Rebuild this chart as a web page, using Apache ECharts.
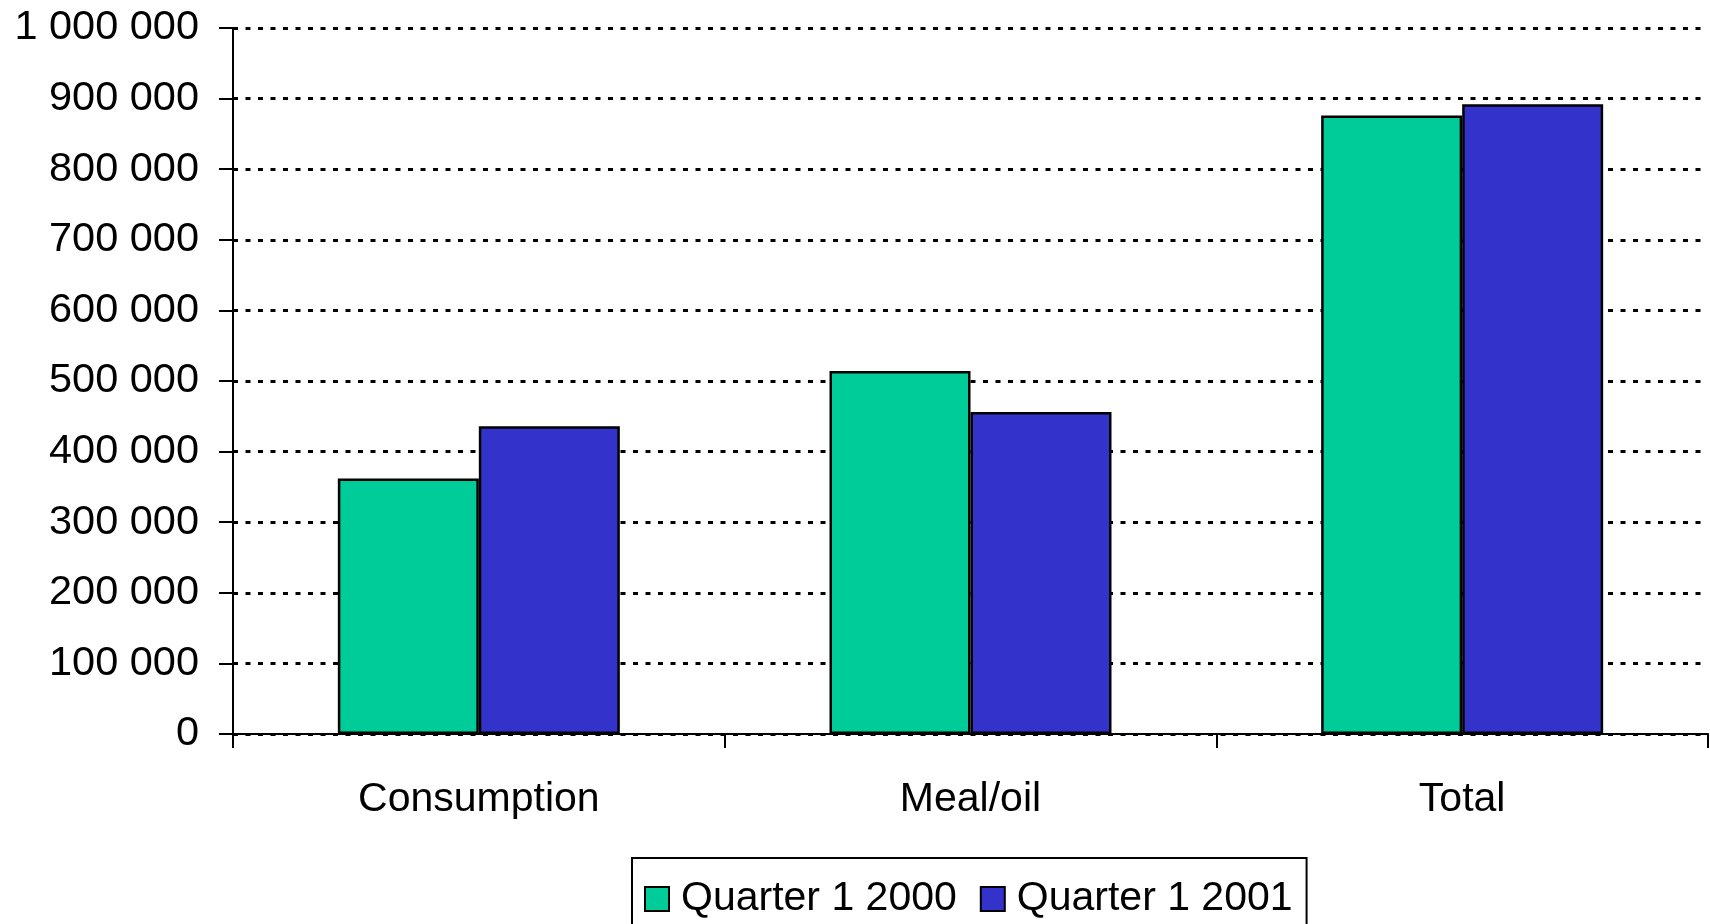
<!DOCTYPE html>
<html>
<head>
<meta charset="utf-8">
<title>Quarter 1 2000 vs Quarter 1 2001</title>
<script src="https://cdn.jsdelivr.net/npm/echarts@6/dist/echarts.min.js"></script>
<style>
  html, body { margin: 0; padding: 0; background: #ffffff; }
  #chart { width: 1710px; height: 924px; }
</style>
</head>
<body>
<div id="chart"></div>
<script>
// Categories and series values
const categories = ['Consumption', 'Meal/oil', 'Total'];
const seriesNames = ['Quarter 1 2000', 'Quarter 1 2001'];
const q1_2000 = [362000, 514000, 876000];
const q1_2001 = [436000, 456000, 892000];

const FONT = '"Liberation Sans", Arial, sans-serif';

// Thousands separated by a space: 1 000 000
function spaced(v) {
  return String(v).replace(/\B(?=(\d{3})+(?!\d))/g, ' ');
}

const chart = echarts.init(document.getElementById('chart'), null, { renderer: 'canvas' });

const barStyle = (color) => ({
  color: color,
  borderColor: '#000000',
  borderWidth: 2.5
});

chart.setOption({
  backgroundColor: '#ffffff',
  animation: false,
  textStyle: { fontFamily: FONT, color: '#000000' },
  grid: { left: 233, right: 2, top: 28, bottom: 190, containLabel: false },
  legend: {
    data: seriesNames,
    top: 858,
    left: 632,
    orient: 'horizontal',
    padding: [19, 14, 21, 12],
    itemGap: 23,
    itemWidth: 24,
    itemHeight: 24,
    borderColor: '#000000',
    borderWidth: 2,
    icon: 'rect',
    itemStyle: { borderColor: '#000000', borderWidth: 2 },
    textStyle: { fontFamily: FONT, fontSize: 41, color: '#000000', lineHeight: 44, padding: [0, 0, 0, 7] }
  },
  xAxis: {
    type: 'category',
    data: categories,
    boundaryGap: true,
    axisLine: { lineStyle: { color: '#000000', width: 2 } },
    axisTick: { show: true, length: 14, lineStyle: { color: '#000000', width: 2 } },
    axisLabel: { fontFamily: FONT, fontSize: 41, color: '#000000', margin: 45 },
    splitLine: { show: false }
  },
  yAxis: {
    type: 'value',
    min: 0,
    max: 1000000,
    interval: 100000,
    axisLine: { show: true, lineStyle: { color: '#000000', width: 2 } },
    axisTick: { show: true, length: 14, inside: false, lineStyle: { color: '#000000', width: 2 } },
    axisLabel: { fontFamily: FONT, fontSize: 41.5, color: '#000000', margin: 34, formatter: spaced },
    splitLine: { show: true, lineStyle: { color: '#000000', width: 3, type: [5, 7.5] } }
  },
  series: [
    {
      name: seriesNames[0],
      type: 'bar',
      data: q1_2000,
      barWidth: 141,
      barGap: '0%',
      itemStyle: barStyle('#00CC99')
    },
    {
      name: seriesNames[1],
      type: 'bar',
      data: q1_2001,
      barWidth: 141,
      barGap: '0%',
      itemStyle: barStyle('#3333CC')
    }
  ]
});
</script>
</body>
</html>
